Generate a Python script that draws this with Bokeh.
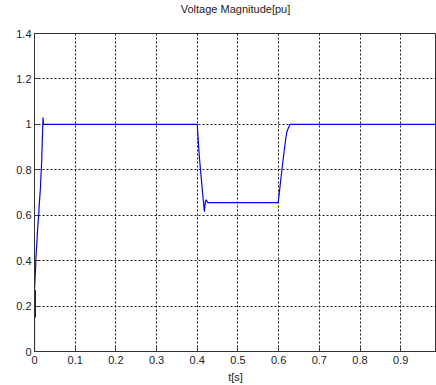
from bokeh.plotting import figure
from bokeh.models import FixedTicker, Range1d, Title
from bokeh.embed import file_html
from bokeh.resources import INLINE

# Voltage magnitude trace
t = [0.0, 0.0, 0.003, 0.003, 0.0065, 0.0065, 0.011, 0.011, 0.015, 0.015, 0.018, 0.018,
     0.021, 0.022, 0.024, 0.40, 0.401, 0.405, 0.412, 0.4175, 0.420, 0.422, 0.426,
     0.599, 0.603, 0.610, 0.617, 0.620, 0.623, 0.628, 0.99]
v = [0.0, 0.27, 0.38, 0.40, 0.50, 0.51, 0.62, 0.63, 0.73, 0.74, 0.85, 0.86,
     1.03, 1.0, 1.0, 1.0, 0.97, 0.86, 0.72, 0.615, 0.66, 0.668, 0.655,
     0.655, 0.72, 0.83, 0.93, 0.965, 0.98, 1.0, 1.0]
# dark initial segment at t = 0
init_t = [0.0015, 0.0015]
init_v = [0.15, 0.27]

x_ticks = [0, 0.1, 0.2, 0.3, 0.4, 0.5, 0.6, 0.7, 0.8, 0.9]
x_labels = ["0", "0.1", "0.2", "0.3", "0.4", "0.5", "0.6", "0.7", "0.8", "0.9"]
y_ticks = [0, 0.2, 0.4, 0.6, 0.8, 1.0, 1.2, 1.4]
y_labels = ["0", "0.2", "0.4", "0.6", "0.8", "1", "1.2", "1.4"]

FONT = "Liberation Sans"

p = figure(width=436, height=385, output_backend="svg", toolbar_location=None,
           x_range=Range1d(0, 0.988), y_range=Range1d(0, 1.4),
           title="Voltage Magnitude[pu]", x_axis_label="t[s]")
p.min_border_left = 34
p.min_border_right = 0
p.min_border_top = 32
p.min_border_bottom = 34

p.title.align = "center"
p.title.text_font = FONT
p.title.text_font_size = "11px"
p.title.text_font_style = "normal"
p.title.text_color = "#222222"
p.title.offset = 0
p.title.standoff = 0

# empty spacer between title and frame
p.add_layout(Title(text=" ", text_font_size="15px", standoff=0), "above")

p.outline_line_color = "#333333"
p.outline_line_width = 1
p.background_fill_color = "white"
p.border_fill_color = "white"

for ax in (p.xaxis[0], p.yaxis[0]):
    ax.major_tick_in = 4
    ax.major_tick_out = 0
    ax.minor_tick_in = 0
    ax.minor_tick_out = 0
    ax.axis_line_color = "#333333"
    ax.major_tick_line_color = "#333333"
    ax.major_label_text_font = FONT
    ax.major_label_text_font_size = "11px"
    ax.major_label_text_color = "#222222"
    ax.axis_label_text_font = FONT
    ax.axis_label_text_font_size = "11px"
    ax.axis_label_text_font_style = "normal"
    ax.axis_label_text_color = "#222222"

p.xaxis.ticker = FixedTicker(ticks=x_ticks)
p.xaxis.major_label_overrides = {tk: lb for tk, lb in zip(x_ticks, x_labels)}
p.yaxis.ticker = FixedTicker(ticks=y_ticks)
p.yaxis.major_label_overrides = {tk: lb for tk, lb in zip(y_ticks, y_labels)}
p.xaxis.major_label_standoff = 4
p.yaxis.major_label_standoff = 3
p.xaxis.axis_label_standoff = 4

for g in (p.xgrid[0], p.ygrid[0]):
    g.grid_line_color = "black"
    g.grid_line_dash = "2 2"
    g.grid_line_width = 1
    g.grid_line_alpha = 0.9

p.line(t, v, line_color="#0000ff", line_width=1.2)
p.line(init_t, init_v, line_color="black", line_width=1.5)

open("out.html", "w").write(file_html(p, INLINE))
